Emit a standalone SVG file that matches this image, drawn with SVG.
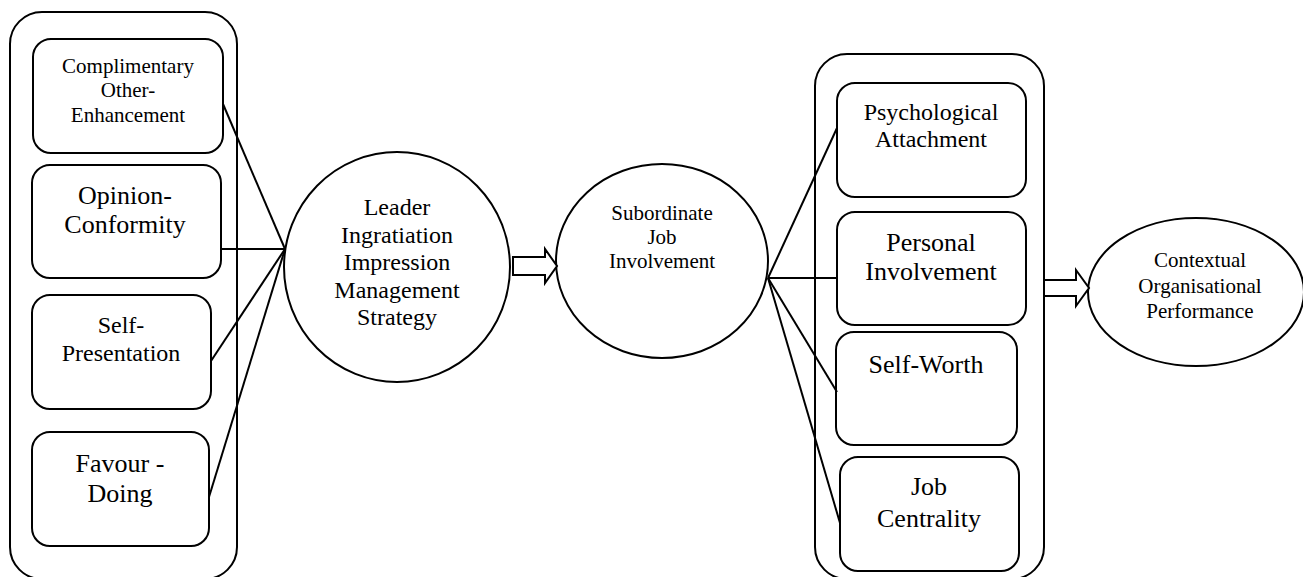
<svg xmlns="http://www.w3.org/2000/svg" width="1303" height="577" viewBox="0 0 1303 577">
<style>
.s{fill:none;stroke:#000;stroke-width:2}
.w{fill:#fff;stroke:#000;stroke-width:2}
.c{stroke:#000;stroke-width:2;fill:none}
text{font-family:"Liberation Serif","Times New Roman",serif;fill:#000;text-anchor:middle}
</style>
<rect width="1303" height="577" fill="#fff"/>
<g id="left-group">
<rect class="s" x="10" y="12" width="227" height="567" rx="32" ry="32"/>
</g>
<g id="right-group">
<rect class="s" x="815" y="54" width="229" height="525" rx="32" ry="32"/>
</g>
<g id="complimentary">
<rect class="w" x="33" y="39" width="190" height="114" rx="18" ry="18"/>
<text font-size="21"><tspan x="128" y="73">Complimentary</tspan><tspan x="128" y="97">Other-</tspan><tspan x="128" y="122">Enhancement</tspan></text>
</g>
<g id="opinion">
<rect class="w" x="32" y="165" width="189" height="113" rx="18" ry="18"/>
<text font-size="26"><tspan x="125" y="204">Opinion-</tspan><tspan x="125" y="233">Conformity</tspan></text>
</g>
<g id="selfpresentation">
<rect class="w" x="32" y="295" width="179" height="114" rx="18" ry="18"/>
<text font-size="24"><tspan x="121" y="333">Self-</tspan><tspan x="121" y="361">Presentation</tspan></text>
</g>
<g id="favour">
<rect class="w" x="32" y="432" width="177" height="114" rx="18" ry="18"/>
<text font-size="26"><tspan x="120" y="472">Favour -</tspan><tspan x="120" y="502">Doing</tspan></text>
</g>
<g id="leader">
<ellipse class="w" cx="397" cy="267" rx="113" ry="115"/>
<text font-size="24"><tspan x="397" y="215">Leader</tspan><tspan x="397" y="243">Ingratiation</tspan><tspan x="397" y="270">Impression</tspan><tspan x="397" y="298">Management</tspan><tspan x="397" y="325">Strategy</tspan></text>
</g>
<g id="subordinate">
<ellipse class="w" cx="662" cy="261" rx="106" ry="97"/>
<text font-size="21"><tspan x="662" y="220">Subordinate</tspan><tspan x="662" y="244">Job</tspan><tspan x="662" y="268">Involvement</tspan></text>
</g>
<g id="psychological">
<rect class="w" x="837" y="83" width="189" height="114" rx="18" ry="18"/>
<text font-size="24"><tspan x="931" y="120">Psychological</tspan><tspan x="931" y="147">Attachment</tspan></text>
</g>
<g id="personal">
<rect class="w" x="837" y="212" width="189" height="113" rx="18" ry="18"/>
<text font-size="26"><tspan x="931" y="251">Personal</tspan><tspan x="931" y="280">Involvement</tspan></text>
</g>
<g id="selfworth">
<rect class="w" x="836" y="332" width="181" height="113" rx="18" ry="18"/>
<text font-size="26"><tspan x="926" y="373">Self-Worth</tspan></text>
</g>
<g id="jobcentrality">
<rect class="w" x="840" y="457" width="179" height="114" rx="18" ry="18"/>
<text font-size="26"><tspan x="929" y="495">Job</tspan><tspan x="929" y="527">Centrality</tspan></text>
</g>
<g id="contextual">
<ellipse class="w" cx="1196" cy="292" rx="108" ry="74"/>
<text font-size="21"><tspan x="1200" y="267">Contextual</tspan><tspan x="1200" y="293">Organisational</tspan><tspan x="1200" y="318">Performance</tspan></text>
</g>
<g id="connectors">
<line class="c" x1="223" y1="104" x2="285" y2="249"/>
<line class="c" x1="221" y1="249" x2="285" y2="249"/>
<line class="c" x1="211" y1="361" x2="285" y2="249"/>
<line class="c" x1="209" y1="497" x2="285" y2="249"/>
<line class="c" x1="768" y1="278" x2="837" y2="128"/>
<line class="c" x1="768" y1="278" x2="837" y2="278"/>
<line class="c" x1="768" y1="278" x2="837" y2="392"/>
<line class="c" x1="768" y1="278" x2="840" y2="523"/>
<path class="w" d="M513,257 L545,257 L545,249 L557,266 L545,283 L545,275 L513,275 Z"/>
<path class="w" d="M1044,280 L1076,280 L1076,270 L1089,288 L1076,306 L1076,296 L1044,296 Z"/>
</g>
</svg>
